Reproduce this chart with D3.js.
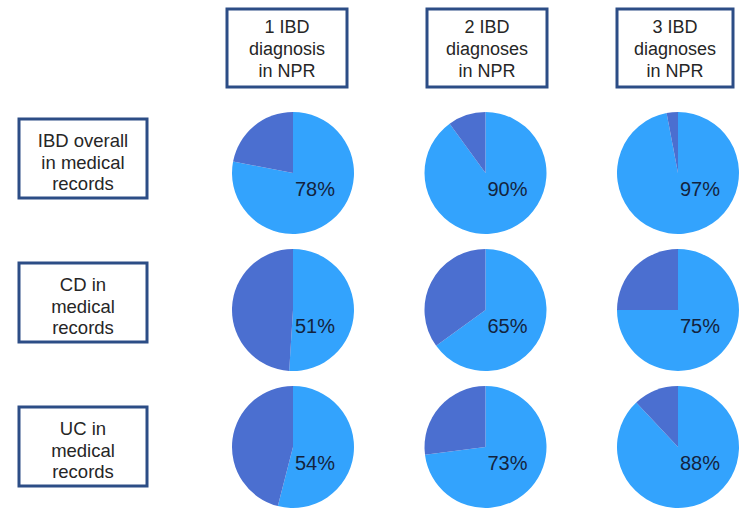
<!DOCTYPE html>
<html>
<head>
<meta charset="utf-8">
<script src="https://cdn.jsdelivr.net/npm/d3@7"></script>
<style>
  html, body { margin: 0; padding: 0; background: #fff; }
  svg { display: block; font-family: "Liberation Sans", Arial, sans-serif; }
</style>
</head>
<body>
<svg id="chart" width="750" height="521"></svg>
<script>
// Column headers (number of IBD diagnoses in NPR)
const columnLabels = [
  ["1 IBD", "diagnosis", "in NPR"],
  ["2 IBD", "diagnoses", "in NPR"],
  ["3 IBD", "diagnoses", "in NPR"]
];
// Row headers
const rowLabels = [
  ["IBD overall", "in medical", "records"],
  ["CD in", "medical", "records"],
  ["UC in", "medical", "records"]
];
// Percent confirmed, one array per row
const ibdOverall = [78, 90, 97];
const cdValues = [51, 65, 75];
const ucValues = [54, 73, 88];
const rowValues = [ibdOverall, cdValues, ucValues];

const svg = d3.select("#chart");
const colX = d3.scalePoint().domain([0, 1, 2]).range([293, 678]);
const rowY = d3.scalePoint().domain([0, 1, 2]).range([173, 447]);
const r = 61;

const lightBlue = "#33a3fd";
const darkBlue = "#4b6fd0";
const boxStroke = "#2c4d86";

// Column header boxes
const colBoxes = [{x: 227, w: 120}, {x: 427, w: 120}, {x: 617, w: 116}];
colBoxes.forEach((b, i) => {
  const g = svg.append("g");
  g.append("rect").attr("x", b.x).attr("y", 9).attr("width", b.w).attr("height", 78)
    .attr("fill", "#fff").attr("stroke", boxStroke).attr("stroke-width", 3);
  const t = g.append("text").attr("text-anchor", "middle").attr("font-size", 18).attr("fill", "#262626");
  columnLabels[i].forEach((line, k) => {
    t.append("tspan").attr("x", b.x + b.w / 2).attr("y", 33 + k * 22).text(line);
  });
});

// Row header boxes
const rowBoxTops = [119, 263, 407];
rowBoxTops.forEach((top, i) => {
  const g = svg.append("g");
  g.append("rect").attr("x", 19).attr("y", top).attr("width", 128).attr("height", 79)
    .attr("fill", "#fff").attr("stroke", boxStroke).attr("stroke-width", 3);
  const t = g.append("text").attr("text-anchor", "middle").attr("font-size", 18.5).attr("fill", "#262626");
  rowLabels[i].forEach((line, k) => {
    t.append("tspan").attr("x", 83).attr("y", top + 28 + k * 21.5).text(line);
  });
});

// Pies
const pie = d3.pie().sort(null).startAngle(0).endAngle(2 * Math.PI);
const arc = d3.arc().innerRadius(0).outerRadius(r);

rowValues.forEach((vals, ri) => {
  vals.forEach((v, ci) => {
    const g = svg.append("g").attr("transform", `translate(${colX(ci)},${rowY(ri)})`);
    g.selectAll("path").data(pie([v, 100 - v])).join("path")
      .attr("d", arc)
      .attr("fill", (d, i) => i === 0 ? lightBlue : darkBlue);
    g.append("text").attr("x", 22).attr("y", 23).attr("text-anchor", "middle")
      .attr("font-size", 20).attr("fill", "#13233d").text(v + "%");
  });
});
</script>
</body>
</html>
